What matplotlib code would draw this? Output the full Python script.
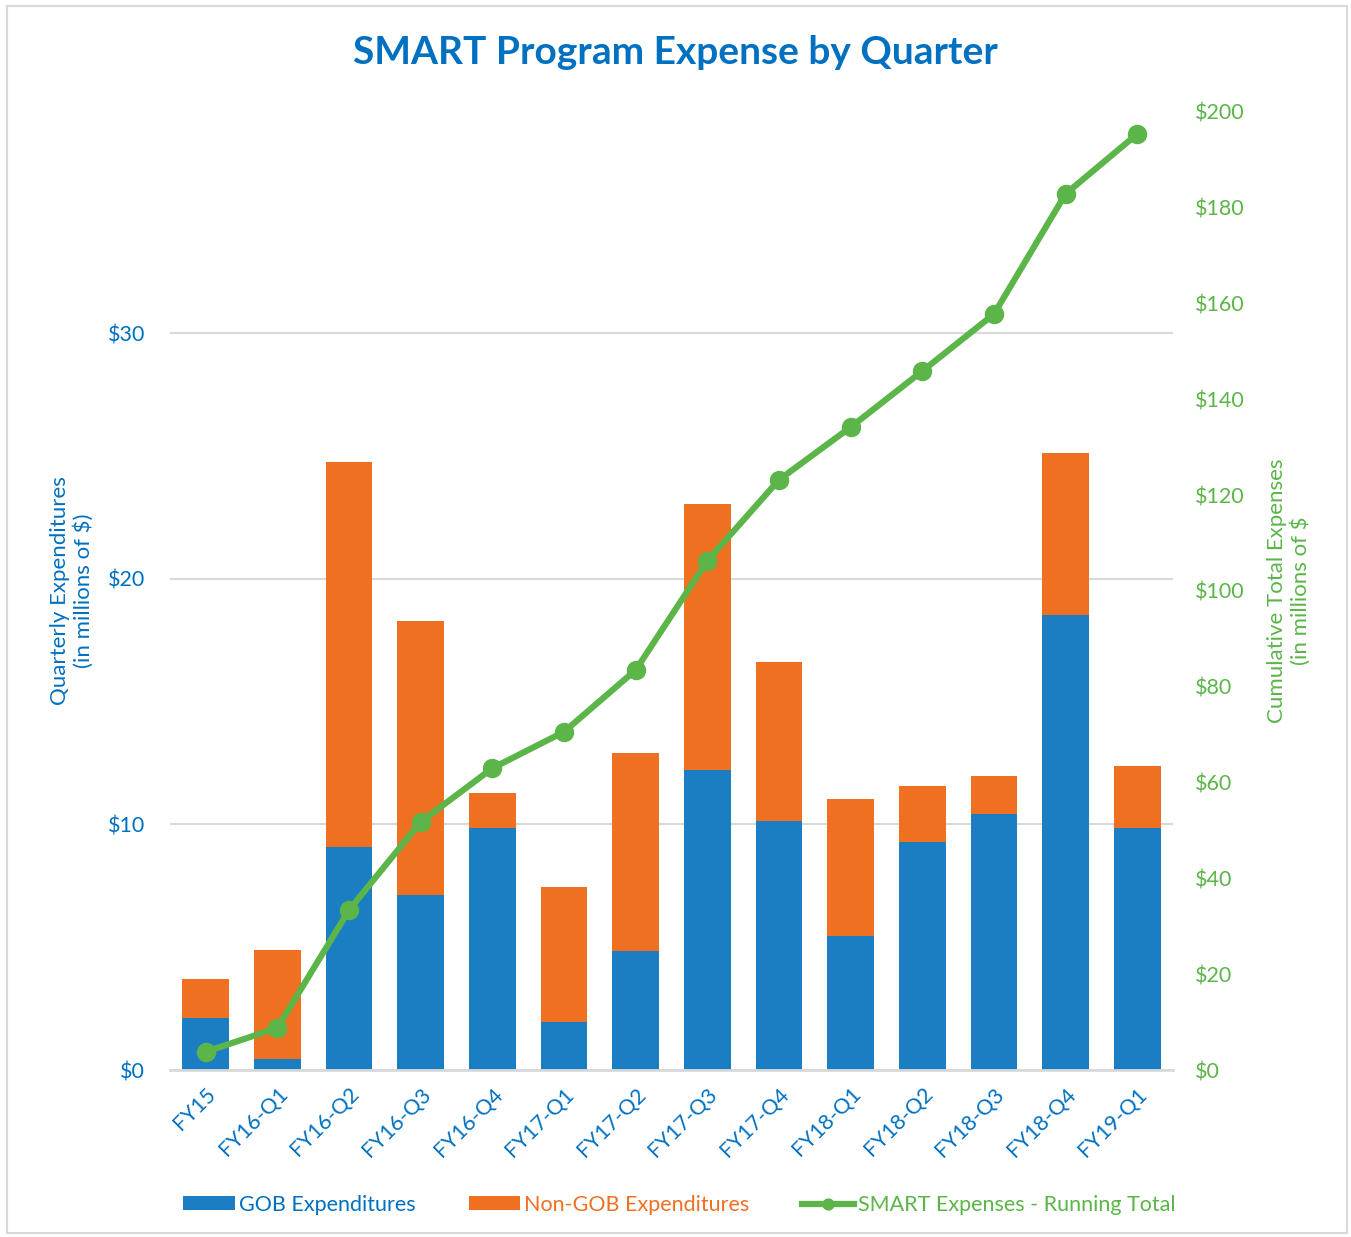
import matplotlib
matplotlib.use("Agg")
import matplotlib.pyplot as plt
from matplotlib.patches import Rectangle
from matplotlib.ticker import FuncFormatter
import numpy as np

plt.rcParams['font.family'] = ['Lato', 'DejaVu Sans']

quarters = ["FY15", "FY16-Q1", "FY16-Q2", "FY16-Q3", "FY16-Q4", "FY17-Q1", "FY17-Q2",
            "FY17-Q3", "FY17-Q4", "FY18-Q1", "FY18-Q2", "FY18-Q3", "FY18-Q4", "FY19-Q1"]
gob = [2.12, 0.45, 9.08, 7.12, 9.85, 1.95, 4.84, 12.21, 10.13, 5.45, 9.28, 10.42, 18.52, 9.85]
non_gob = [1.58, 4.43, 15.67, 11.15, 1.42, 5.50, 8.06, 10.83, 6.48, 5.58, 2.28, 1.55, 6.59, 2.52]
running_total = [3.8, 8.8, 33.4, 51.8, 63.0, 70.6, 83.5, 106.3, 123.2, 134.2, 145.9, 157.8, 182.9, 195.4]

blue = "#1B7EC2"
text_blue = "#0070C0"
orange = "#F07022"
green = "#5BB548"
grid_gray = "#D9D9D9"

fig = plt.figure(figsize=(13.51, 12.37), dpi=100)
fig.patches.append(Rectangle((0.005, 0.003), 0.992, 0.992, transform=fig.transFigure,
                             fill=False, edgecolor="#D9D9D9", linewidth=1.5))

ax = fig.add_axes([0.1258, 0.135, 0.7425, 0.7745])
x = np.arange(len(quarters))

# stacked bars
ax.bar(x, gob, width=0.65, color=blue, label="GOB Expenditures", zorder=2)
ax.bar(x, non_gob, width=0.65, bottom=gob, color=orange, label="Non-GOB Expenditures", zorder=2)

ax.set_xlim(-0.5, len(quarters) - 0.5)
ax.set_ylim(0, 39)
ax.set_yticks([0, 10, 20, 30])
ax.yaxis.set_major_formatter(FuncFormatter(lambda v, p: f"${v:.0f}"))
ax.grid(axis="y", color=grid_gray, linewidth=1.5, zorder=0)
ax.set_xticks(x)
ax.set_xticklabels(quarters, rotation=45, ha="right", rotation_mode="anchor")
ax.tick_params(axis="x", colors=text_blue, labelsize=15.5, length=0, pad=10)
ax.tick_params(axis="y", colors=text_blue, labelsize=15.5, length=0, pad=18)
for s in ["top", "right", "left"]:
    ax.spines[s].set_visible(False)
ax.spines["bottom"].set_color(grid_gray)
ax.spines["bottom"].set_linewidth(2)
ax.set_ylabel("Quarterly Expenditures\n(in millions of $)", color=text_blue, fontsize=16,
              labelpad=10)

# running total on secondary axis
ax2 = ax.twinx()
ax2.plot(x, running_total, color=green, linewidth=4.5, marker="o", markersize=13,
         label="SMART Expenses - Running Total", zorder=3)
ax2.set_ylim(0, 200)
ax2.set_yticks(np.arange(0, 201, 20))
ax2.yaxis.set_major_formatter(FuncFormatter(lambda v, p: f"${v:.0f}"))
ax2.tick_params(axis="y", colors=green, labelsize=15.5, length=0, pad=16)
for s in ax2.spines.values():
    s.set_visible(False)
ax2.set_ylabel("Cumulative Total Expenses\n(in millions of $", color=green, fontsize=16,
               labelpad=16)

fig.suptitle("SMART Program Expense by Quarter", x=0.5, y=0.972, fontsize=28,
             fontweight="bold", color=text_blue)

h1, l1 = ax.get_legend_handles_labels()
h2, l2 = ax2.get_legend_handles_labels()
leg = fig.legend(h1 + h2, l1 + l2, loc="center", bbox_to_anchor=(0.503, 0.026), ncol=3,
                 frameon=False, fontsize=15.5, handlelength=2.4, handleheight=0.6,
                 handletextpad=0.2, columnspacing=2.45, markerscale=0.6,
                 labelcolor=[text_blue, orange, green])

fig.savefig("out.png", dpi=100)
